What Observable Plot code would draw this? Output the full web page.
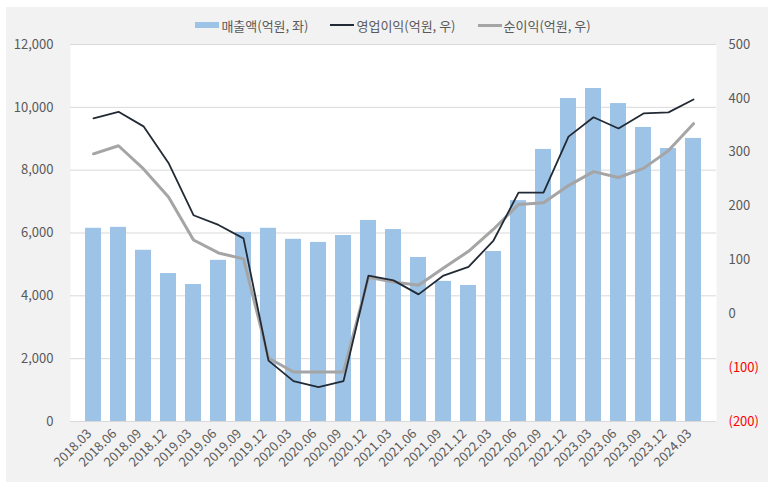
<!DOCTYPE html>
<html>
<head>
<meta charset="utf-8">
<script src="https://cdn.jsdelivr.net/npm/d3@7"></script>
<script src="https://cdn.jsdelivr.net/npm/@observablehq/plot@0.6"></script>
<style>
  html, body { margin: 0; padding: 0; background: #ffffff; }
  body { width: 775px; height: 488px; position: relative; overflow: hidden;
         font-family: "Noto Sans CJK KR", "Noto Sans", sans-serif; }
  #box { position: absolute; left: 6px; top: 7px; width: 762px; height: 475px; background: #f2f2f2; }
  #legend { position: absolute; left: 64px; top: 8px; width: 646px; height: 20px; z-index: 2;
            display: flex; justify-content: center; align-items: center;
            font-size: 13px; color: #595959; white-space: nowrap; }
  .item { display: flex; align-items: center; margin: 0 11px; }
  .sw { display: inline-block; width: 24px; margin-right: 2px; }
  #chart { position: absolute; left: 0; top: 20px; z-index: 1; }
</style>
</head>
<body>
<div id="box">
  <div id="chart"></div>
  <div id="legend"></div>
</div>
<script>
const categories = ["2018.03","2018.06","2018.09","2018.12","2019.03","2019.06","2019.09","2019.12",
  "2020.03","2020.06","2020.09","2020.12","2021.03","2021.06","2021.09","2021.12",
  "2022.03","2022.06","2022.09","2022.12","2023.03","2023.06","2023.09","2023.12","2024.03"];
// 매출액 (억원, left axis)
const sales = [6150, 6180, 5450, 4710, 4360, 5130, 6020, 6150, 5800, 5700, 5920, 6400, 6110,
  5220, 4460, 4330, 5410, 7030, 8660, 10280, 10600, 10120, 9360, 8690, 9010];
// 영업이익 (억원, right axis)
const opIncome = [363, 375, 348, 280, 183, 165, 140, -87, -125, -136, -125, 71, 62,
  36, 71, 87, 136, 225, 225, 329, 365, 344, 372, 374, 398];
// 순이익 (억원, right axis)
const netIncome = [297, 312, 269, 217, 137, 113, 102, -82, -108, -108, -108, 68, 59,
  53, 85, 116, 157, 203, 206, 238, 264, 253, 270, 303, 353];
const leftTicks = [0, 2000, 4000, 6000, 8000, 10000, 12000];
const rightTicks = [-200, -100, 0, 100, 200, 300, 400, 500];
const seriesNames = ["매출액(억원, 좌)", "영업이익(억원, 우)", "순이익(억원, 우)"];

const colors = {sales: "#9dc3e6", op: "#222a35", net: "#a5a5a5"};

// Map right-axis values onto the left-axis scale domain [0, 12000]
const rMin = -200, rMax = 500, lMax = 12000;
const toLeft = v => (v - rMin) * lMax / (rMax - rMin);
const toRight = p => Math.round(p * (rMax - rMin) / lMax + rMin);

const data = categories.map((c, i) => ({cat: c, sales: sales[i], op: opIncome[i], net: netIncome[i]}));

// Legend
const legend = document.getElementById("legend");
const swatches = [
  `<span class="sw" style="height:6px;background:${colors.sales}"></span>`,
  `<span class="sw" style="height:2px;background:${colors.op}"></span>`,
  `<span class="sw" style="height:3px;background:${colors.net}"></span>`
];
seriesNames.forEach((n, i) => {
  const el = document.createElement("span");
  el.className = "item";
  el.innerHTML = swatches[i] + `<span>${n}</span>`;
  legend.appendChild(el);
});

const fmtRight = p => { const v = toRight(p); return v < 0 ? `(${-v})` : String(v); };

const chart = Plot.plot({
  width: 762,
  height: 455,
  marginTop: 17,
  marginBottom: 61,
  marginLeft: 64,
  marginRight: 52,
  style: {background: "transparent", fontFamily: "'Noto Sans CJK KR', 'Noto Sans', sans-serif", fontSize: "13px", color: "#595959", overflow: "visible"},
  x: {type: "band", domain: categories, padding: 0.34, label: null},
  y: {domain: [0, lMax], label: null},
  marks: [
    Plot.frame({fill: "white", stroke: "none"}),
    Plot.ruleY(leftTicks, {stroke: "#d9d9d9", strokeWidth: 1}),
    Plot.barY(data, {x: "cat", y: "sales", fill: colors.sales}),
    Plot.lineY(data, {x: "cat", y: d => toLeft(d.net), stroke: colors.net, strokeWidth: 3, strokeLinejoin: "miter"}),
    Plot.lineY(data, {x: "cat", y: d => toLeft(d.op), stroke: colors.op, strokeWidth: 1.8, strokeLinejoin: "miter"}),
    Plot.axisY(leftTicks, {anchor: "left", tickSize: 0, tickPadding: 17, tickFormat: d3.format(","), label: null, fill: "#595959"}),
    Plot.axisY(rightTicks.filter(v => v >= 0).map(toLeft), {anchor: "right", tickSize: 0, tickPadding: 12, tickFormat: fmtRight, label: null, fill: "#595959"}),
    Plot.axisY(rightTicks.filter(v => v < 0).map(toLeft), {anchor: "right", tickSize: 0, tickPadding: 12, tickFormat: fmtRight, label: null, fill: "#ff0000"}),
    Plot.axisX({anchor: "bottom", tickSize: 0, tickPadding: 10, tickRotate: -45, label: null, fill: "#595959", dx: -4})
  ]
});
document.getElementById("chart").appendChild(chart);
</script>
</body>
</html>
